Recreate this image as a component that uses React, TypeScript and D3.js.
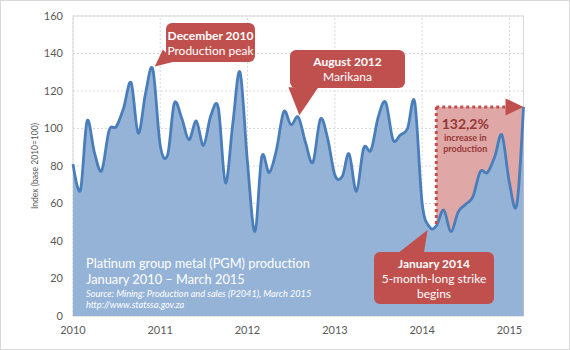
import * as d3 from 'd3';

// monthly PGM production index (base 2010=100), Jan 2010 - Mar 2015
const values = [
  81, 67, 104, 87, 77.5, 99, 101, 111, 124.5, 97.5, 119, 131.5,
  91, 86, 113.5, 105.5, 94, 104, 91, 107, 111, 71, 103, 130,
  82, 45, 85, 76.5, 88.5, 109, 102, 106, 92, 82, 105, 95,
  75, 74.5, 86.5, 66.5, 89.5, 88.5, 106, 114, 94, 96.5, 100, 114,
  60, 47.5, 48, 56.5, 45, 55.5, 59.5, 63.5, 77, 76.5, 85, 96.5,
  71, 59.5, 111.5
];
const months = d3.timeMonths(new Date(2010, 0, 1), new Date(2015, 3, 1));
const data = months.map((d, i) => ({ date: d, value: values[i] }));

const yearTicks = [2010, 2011, 2012, 2013, 2014, 2015];
const yTicks = [0, 20, 40, 60, 80, 100, 120, 140, 160];

const titleLines = ['Platinum group metal (PGM) production', 'January 2010 \u2013 March 2015'];
const sourceLines = ['Source: Mining: Production and sales (P2041), March 2015', 'http://www.statssa.gov.za'];

const W = 570;
const H = 350;
const m = { top: 16, right: 46.5, bottom: 34, left: 73 };
const FONT = "Lato, 'Open Sans', sans-serif";
const RED = '#c0504d';

export default function App() {
  const x = d3.scaleTime()
    .domain([new Date(2010, 0, 1), new Date(2015, 2, 1)])
    .range([m.left, W - m.right]);
  const y = d3.scaleLinear().domain([0, 160]).range([H - m.bottom, m.top]);

  const curve = d3.curveCardinal.tension(0);
  const line = d3.line<any>().x(d => x(d.date)).y(d => y(d.value)).curve(curve);
  const area = d3.area<any>().x(d => x(d.date)).y0(y(0)).y1(d => y(d.value)).curve(curve);

  const x0 = m.left;
  const x1 = W - m.right;

  // annotation anchors from the data
  const peak = data[11];
  const marikana = data[31];
  const strike = data[49];
  const low = data[50];
  const last = data[data.length - 1];

  const px = x(peak.date), py = y(peak.value);
  const mx = x(marikana.date), my = y(marikana.value);
  const sx = x(strike.date), sy = y(strike.value);
  const lx = x(low.date), ly = y(low.value);
  const topY = y(last.value);

  return (
    <svg width={W} height={H} style={{ position: 'absolute', left: 0, top: 0 }} fontFamily={FONT}>
      <rect x={0.5} y={0.5} width={W - 1} height={H - 1} fill="#fff" stroke="#d9d9d9" />

      {/* grid */}
      {yTicks.map(t => (
        <line key={'gy' + t} x1={x0} x2={x1} y1={y(t)} y2={y(t)} stroke="#d9d9d9" strokeDasharray="2,2" />
      ))}
      {yearTicks.map(t => (
        <line key={'gx' + t} x1={x(new Date(t, 0, 1))} x2={x(new Date(t, 0, 1))} y1={y(0)} y2={y(160)} stroke="#d9d9d9" strokeDasharray="2,2" />
      ))}
      <rect x={x0} y={y(160)} width={x1 - x0} height={y(0) - y(160)} fill="none" stroke="#d9d9d9" />

      {/* increase highlight */}
      <rect x={lx} y={topY} width={x1 - lx} height={y(0) - topY} fill="#dfa7a6" />

      <path d={area(data) as string} fill="#95b3d7" />
      <path d={line(data) as string} fill="none" stroke="#4a7ebb" strokeWidth={2.8} />

      <line x1={lx} x2={lx} y1={ly - 2} y2={topY} stroke={RED} strokeWidth={3} strokeDasharray="3,3" />
      <line x1={lx} x2={x1 - 17} y1={topY} y2={topY} stroke={RED} strokeWidth={3} strokeDasharray="3,3" />
      <path d={`M${x1 - 18},${topY - 8.5} L${x1},${topY} L${x1 - 18},${topY + 8.5} Z`} fill={RED} />
      <text x={lx + 29} y={topY + 22} textAnchor="middle" fill="#953735" fontWeight="bold" fontSize={14}>132,2%</text>
      <text x={lx + 29} y={topY + 34} textAnchor="middle" fill="#953735" fontWeight="bold" fontSize={9}>increase in</text>
      <text x={lx + 29} y={topY + 45} textAnchor="middle" fill="#953735" fontWeight="bold" fontSize={9}>production</text>

      {/* axes labels */}
      {yTicks.map(t => (
        <text key={'yl' + t} x={63} y={y(t)} dy="0.35em" textAnchor="end" fontSize={11} fill="#595959">{t}</text>
      ))}
      {yearTicks.map(t => (
        <text key={'xl' + t} x={x(new Date(t, 0, 1))} y={334} textAnchor="middle" fontSize={11} fill="#595959">{t}</text>
      ))}
      <text transform={`translate(38,${(y(0) + y(160)) / 2}) rotate(-90)`} textAnchor="middle" fontSize={8.5} fill="#595959">Index (base 2010=100)</text>

      {/* title block */}
      {titleLines.map((s, i) => (
        <text key={'t' + i} x={86} y={268 + i * 15.5} fontSize={12.8} fill="#fff">{s}</text>
      ))}
      {sourceLines.map((s, i) => (
        <text key={'s' + i} x={86} y={297 + i * 11} fontSize={9.2} fontStyle="italic" fill="#fff">{s}</text>
      ))}

      {/* callout: December 2010 */}
      <path d={`M${px + 2},${py - 3} L${px + 10},${py - 20} L${px + 22},${py - 8} Z`} fill={RED} />
      <rect x={166} y={23} width={89} height={39} rx={6} fill={RED} />
      <text x={210.5} y={40} textAnchor="middle" fill="#fff" fontWeight="bold" fontSize={12}>December 2010</text>
      <text x={210.5} y={55} textAnchor="middle" fill="#fff" fontSize={12}>Production peak</text>

      {/* callout: August 2012 */}
      <path d={`M${mx + 1},${my - 2} L${mx - 10},${my - 30} L${mx + 20},${my - 30} Z`} fill={RED} />
      <rect x={290} y={50} width={115} height={38} rx={6} fill={RED} />
      <text x={347.5} y={66} textAnchor="middle" fill="#fff" fontWeight="bold" fontSize={12}>August 2012</text>
      <text x={347.5} y={81} textAnchor="middle" fill="#fff" fontSize={12}>Marikana</text>

      {/* callout: January 2014 */}
      <path d={`M${sx - 2},${sy + 3} L${sx - 34},${sy + 28} L${sx - 6},${sy + 28} Z`} fill={RED} />
      <rect x={374} y={252} width={120} height={52} rx={6} fill={RED} />
      <text x={434} y={268} textAnchor="middle" fill="#fff" fontWeight="bold" fontSize={12}>January 2014</text>
      <text x={434} y={283} textAnchor="middle" fill="#fff" fontSize={12}>5-month-long strike</text>
      <text x={434} y={298} textAnchor="middle" fill="#fff" fontSize={12}>begins</text>
    </svg>
  );
}
